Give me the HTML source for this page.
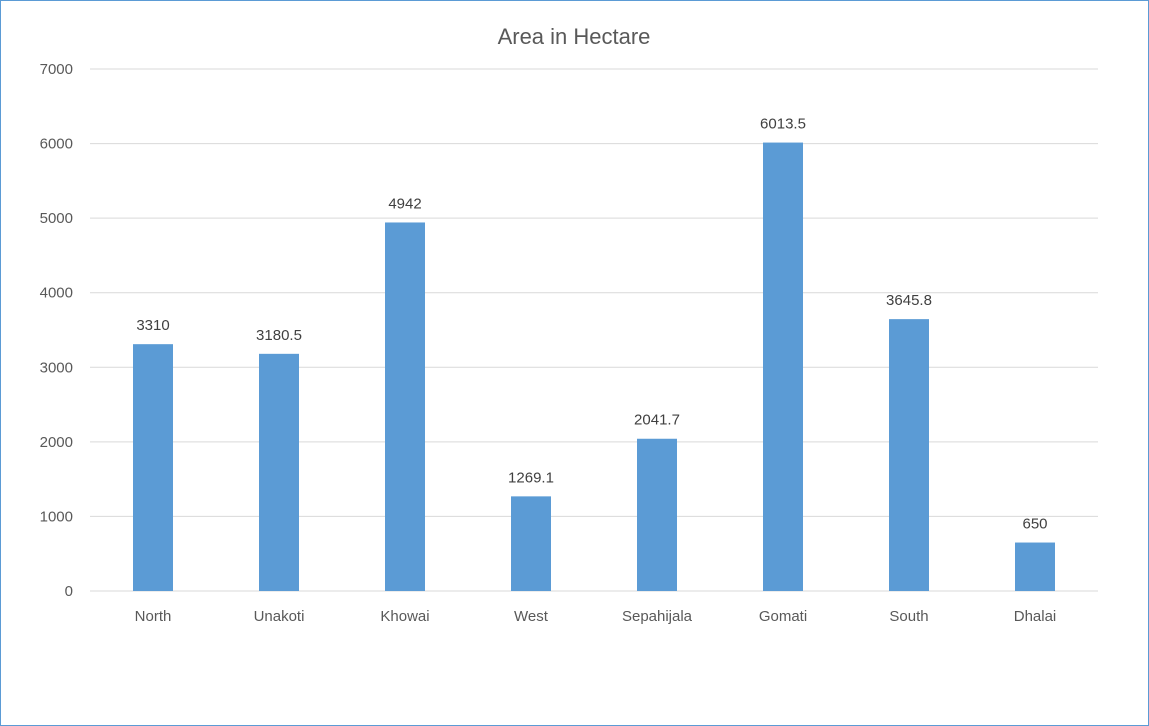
<!DOCTYPE html>
<html><head><meta charset="utf-8"><style>
body{margin:0;background:#fff;}
svg{display:block;font-family:"Liberation Sans",sans-serif;}
</style></head><body>
<svg id="chart" width="1149" height="726">
<rect x="0.5" y="0.5" width="1148" height="725" fill="#fff" stroke="#5b9bd5" stroke-width="1"/>
<text x="574" y="44" text-anchor="middle" font-size="22" fill="#595959">Area in Hectare</text>
<g id="grid"></g><g id="bars"></g><g id="labels"></g>
</svg>
<script>
const categories=["North","Unakoti","Khowai","West","Sepahijala","Gomati","South","Dhalai"];
const values=[3310,3180.5,4942,1269.1,2041.7,6013.5,3645.8,650];
const valueLabels=["3310","3180.5","4942","1269.1","2041.7","6013.5","3645.8","650"];
const ticks=[0,1000,2000,3000,4000,5000,6000,7000];
const ns="http://www.w3.org/2000/svg";
const L=90,R=1098,Y0=591,Y1=69,MAX=7000;
const y=v=>Y0-(v/MAX)*(Y0-Y1);
const step=(R-L)/categories.length;
const x=i=>L+step*(i+0.5);
const g=document.getElementById('grid'),b=document.getElementById('bars'),lb=document.getElementById('labels');
function mk(t,a,p){const e=document.createElementNS(ns,t);for(const k in a)e.setAttribute(k,a[k]);p.appendChild(e);return e;}
ticks.forEach(t=>{
 const l=mk('line',{x1:L,x2:R,y1:y(t),y2:y(t),stroke:'#d9d9d9','stroke-width':1},g);
 
 
 const tx=mk('text',{x:73,y:y(t)+5,'text-anchor':'end','font-size':15,fill:'#595959'},g);
 tx.textContent=t;
 
 
});
categories.forEach((c,i)=>{
 const r=mk('rect',{x:x(i)-20,y:y(values[i]),width:40,height:Y0-y(values[i]),fill:'#5b9bd5'},b);
 
 
 const v=mk('text',{x:x(i),y:y(values[i])-14,'text-anchor':'middle','font-size':15,fill:'#404040'},lb);
 v.textContent=valueLabels[i];
 
 
 const t=mk('text',{x:x(i),y:621,'text-anchor':'middle','font-size':15,fill:'#595959'},lb);
 t.textContent=c;
 
 
});
</script>
</body></html>
